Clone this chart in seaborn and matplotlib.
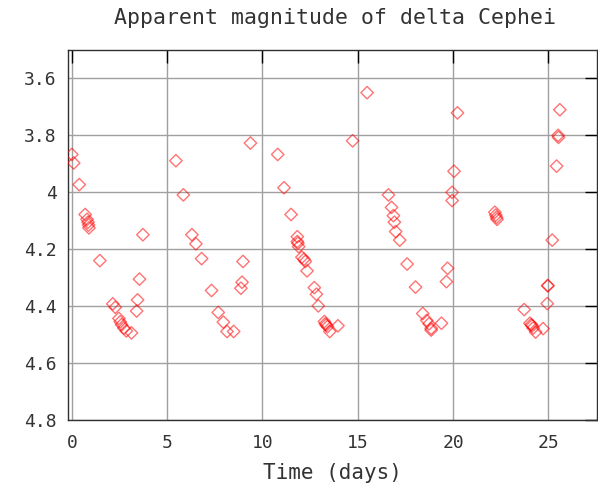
# Apparent magnitude of delta Cephei - gnuplot-like scatter
import matplotlib
matplotlib.use("Agg")
import matplotlib.pyplot as plt
import seaborn as sns
import pandas as pd

# time in days
time_days = [
    0.00, 0.10, 0.39, 0.70, 0.80, 0.85, 0.88, 0.90, 1.47, 2.15,
    2.28, 2.47, 2.54, 2.61, 2.73, 2.86, 3.13, 3.40, 3.45, 3.55,
    3.73, 5.46, 5.85, 6.30, 6.51, 6.81, 7.33, 7.68, 7.95, 8.14,
    8.49, 8.87, 8.93, 8.98, 9.37, 10.80, 11.13, 11.50, 11.83, 11.83,
    11.86, 11.90, 12.07, 12.18, 12.25, 12.34, 12.72, 12.83, 12.93, 13.25,
    13.30, 13.35, 13.41, 13.53, 13.96, 14.73, 15.49, 16.61, 16.77, 16.87,
    16.92, 16.99, 17.20, 17.59, 18.03, 18.41, 18.62, 18.74, 18.85, 18.85,
    19.39, 19.65, 19.71, 19.95, 19.95, 20.05, 20.23, 22.19, 22.24, 22.28,
    22.31, 23.73, 24.03, 24.10, 24.15, 24.20, 24.33, 24.72, 24.94, 24.96,
    24.98, 25.20, 25.43, 25.51, 25.53, 25.60,
]
# apparent magnitude
magnitude = [
    3.867, 3.897, 3.973, 4.078, 4.095, 4.105, 4.115, 4.125, 4.240, 4.392,
    4.404, 4.443, 4.455, 4.465, 4.477, 4.487, 4.494, 4.417, 4.378, 4.305,
    4.149, 3.889, 4.009, 4.149, 4.181, 4.233, 4.345, 4.422, 4.456, 4.489,
    4.489, 4.337, 4.316, 4.243, 3.827, 3.867, 3.984, 4.078, 4.156, 4.173,
    4.179, 4.191, 4.228, 4.235, 4.243, 4.276, 4.335, 4.358, 4.399, 4.454,
    4.462, 4.466, 4.472, 4.489, 4.469, 3.819, 3.650, 4.009, 4.053, 4.082,
    4.105, 4.138, 4.168, 4.252, 4.333, 4.426, 4.450, 4.462, 4.478, 4.484,
    4.460, 4.314, 4.267, 4.000, 4.029, 3.926, 3.721, 4.070, 4.080, 4.088,
    4.095, 4.412, 4.460, 4.465, 4.469, 4.477, 4.491, 4.479, 4.391, 4.328,
    4.328, 4.168, 3.908, 3.800, 3.807, 3.710,
]
x_ticks = [0, 5, 10, 15, 20, 25]
y_ticks = [3.6, 3.8, 4.0, 4.2, 4.4, 4.6, 4.8]
y_labels = ["3.6", "3.8", "4", "4.2", "4.4", "4.6", "4.8"]

df = pd.DataFrame({"time": time_days, "mag": magnitude})

sns.set_style("white")
plt.rcParams["font.family"] = ["DejaVu Sans Mono"]

fig = plt.figure(figsize=(5.98, 4.86), dpi=100)
ax = fig.add_axes([68 / 598, 66 / 486, 529 / 598, 370 / 486])

sns.scatterplot(data=df, x="time", y="mag", marker="D", s=40,
                facecolor="none", edgecolor=(1, 0, 0, 0.55), linewidth=1.0,
                ax=ax, zorder=3)

ax.set_xlim(-0.2, 27.55)
ax.set_ylim(4.8, 3.5)
ax.set_xticks(x_ticks)
ax.set_yticks(y_ticks)
ax.set_yticklabels(y_labels)
ax.grid(True, color="#a0a0a0", linewidth=1.0)
ax.set_axisbelow(True)
for s in ax.spines.values():
    s.set_color("#303030")
    s.set_linewidth(1.0)
ax.tick_params(direction="in", length=9, width=1, color="black",
               top=True, right=True, labelsize=13)
ax.tick_params(axis="x", pad=10)
ax.tick_params(axis="y", pad=8)
for lab in ax.get_xticklabels() + ax.get_yticklabels():
    lab.set_color("#333333")

ax.set_xlabel("Time (days)", fontsize=15, color="#333333", labelpad=8)
ax.set_ylabel("")
fig.text(0.56, 0.962, "Apparent magnitude of delta Cephei", ha="center",
         va="center", fontsize=15.5, color="#333333")

fig.savefig("out.png", dpi=100)
